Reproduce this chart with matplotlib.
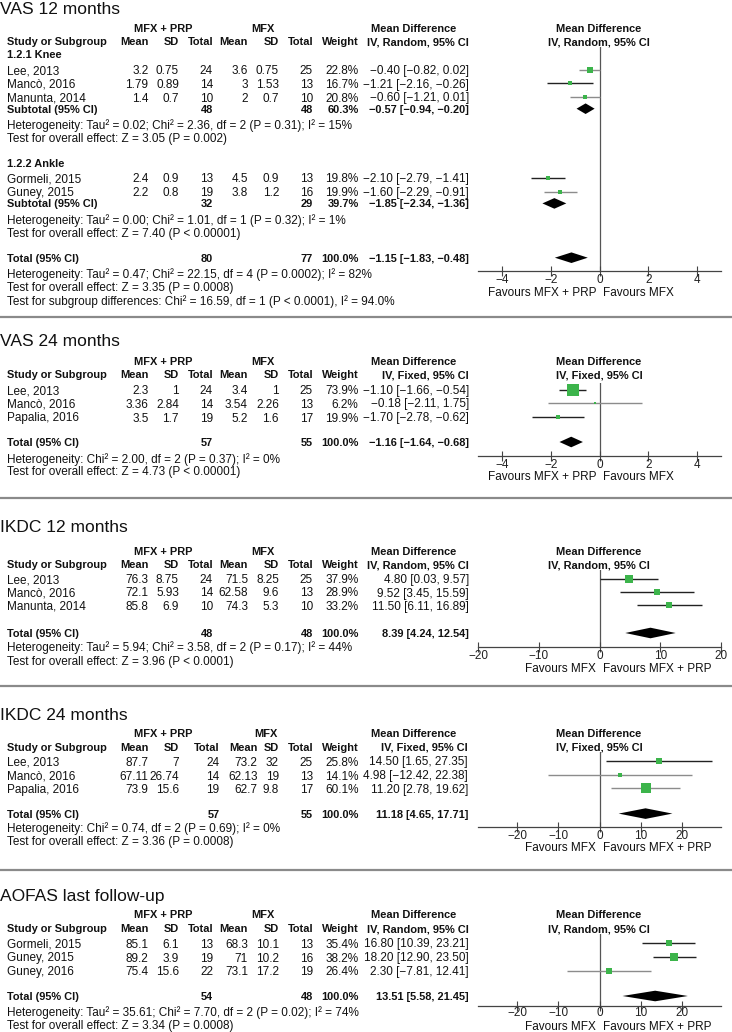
import matplotlib.pyplot as plt

plt.rcParams['font.family'] = ['Liberation Sans Narrow', 'Liberation Sans', 'DejaVu Sans']

# ---- data: VAS 12 months (random effects, two subgroups)
vas12_names = ['Lee, 2013', 'Mancò, 2016', 'Manunta, 2014', 'Gormeli, 2015', 'Guney, 2015']
vas12_prp_mean = [3.2, 1.79, 1.4, 2.4, 2.2]
vas12_prp_sd = [0.75, 0.89, 0.7, 0.9, 0.8]
vas12_prp_n = [24, 14, 10, 13, 19]
vas12_mfx_mean = [3.6, 3, 2, 4.5, 3.8]
vas12_mfx_sd = [0.75, 1.53, 0.7, 0.9, 1.2]
vas12_mfx_n = [25, 13, 10, 13, 16]
vas12_weight = [22.8, 16.7, 20.8, 19.8, 19.9]
vas12_md = [-0.40, -1.21, -0.60, -2.10, -1.60]
vas12_lo = [-0.82, -2.16, -1.21, -2.79, -2.29]
vas12_hi = [0.02, -0.26, 0.01, -1.41, -0.91]
vas12_sub_names = ['1.2.1 Knee', '1.2.2 Ankle']
vas12_sub_members = [[0, 1, 2], [3, 4]]
vas12_sub_prp_n = [48, 32]
vas12_sub_mfx_n = [48, 29]
vas12_sub_weight = [60.3, 39.7]
vas12_sub_md = [-0.57, -1.85]
vas12_sub_lo = [-0.94, -2.34]
vas12_sub_hi = [-0.20, -1.36]
vas12_sub_het = ['Heterogeneity: Tau² = 0.02; Chi² = 2.36, df = 2 (P = 0.31); I² = 15%',
                 'Heterogeneity: Tau² = 0.00; Chi² = 1.01, df = 1 (P = 0.32); I² = 1%']
vas12_sub_test = ['Test for overall effect: Z = 3.05 (P = 0.002)',
                  'Test for overall effect: Z = 7.40 (P < 0.00001)']
vas12_total = [80, 77, 100.0, -1.15, -1.83, -0.48]
vas12_notes = ['Heterogeneity: Tau² = 0.47; Chi² = 22.15, df = 4 (P = 0.0002); I² = 82%',
               'Test for overall effect: Z = 3.35 (P = 0.0008)',
               'Test for subgroup differences: Chi² = 16.59, df = 1 (P < 0.0001), I² = 94.0%']

# ---- VAS 24 months (fixed)
vas24_names = ['Lee, 2013', 'Mancò, 2016', 'Papalia, 2016']
vas24_prp_mean = [2.3, 3.36, 3.5]
vas24_prp_sd = [1, 2.84, 1.7]
vas24_prp_n = [24, 14, 19]
vas24_mfx_mean = [3.4, 3.54, 5.2]
vas24_mfx_sd = [1, 2.26, 1.6]
vas24_mfx_n = [25, 13, 17]
vas24_weight = [73.9, 6.2, 19.9]
vas24_md = [-1.10, -0.18, -1.70]
vas24_lo = [-1.66, -2.11, -2.78]
vas24_hi = [-0.54, 1.75, -0.62]
vas24_total = [57, 55, 100.0, -1.16, -1.64, -0.68]
vas24_notes = ['Heterogeneity: Chi² = 2.00, df = 2 (P = 0.37); I² = 0%',
               'Test for overall effect: Z = 4.73 (P < 0.00001)']

# ---- IKDC 12 months (random)
ikdc12_names = ['Lee, 2013', 'Mancò, 2016', 'Manunta, 2014']
ikdc12_prp_mean = [76.3, 72.1, 85.8]
ikdc12_prp_sd = [8.75, 5.93, 6.9]
ikdc12_prp_n = [24, 14, 10]
ikdc12_mfx_mean = [71.5, 62.58, 74.3]
ikdc12_mfx_sd = [8.25, 9.6, 5.3]
ikdc12_mfx_n = [25, 13, 10]
ikdc12_weight = [37.9, 28.9, 33.2]
ikdc12_md = [4.80, 9.52, 11.50]
ikdc12_lo = [0.03, 3.45, 6.11]
ikdc12_hi = [9.57, 15.59, 16.89]
ikdc12_total = [48, 48, 100.0, 8.39, 4.24, 12.54]
ikdc12_notes = ['Heterogeneity: Tau² = 5.94; Chi² = 3.58, df = 2 (P = 0.17); I² = 44%',
                'Test for overall effect: Z = 3.96 (P < 0.0001)']

# ---- IKDC 24 months (fixed)
ikdc24_names = ['Lee, 2013', 'Mancò, 2016', 'Papalia, 2016']
ikdc24_prp_mean = [87.7, 67.11, 73.9]
ikdc24_prp_sd = [7, 26.74, 15.6]
ikdc24_prp_n = [24, 14, 19]
ikdc24_mfx_mean = [73.2, 62.13, 62.7]
ikdc24_mfx_sd = [32, 19, 9.8]
ikdc24_mfx_n = [25, 13, 17]
ikdc24_weight = [25.8, 14.1, 60.1]
ikdc24_md = [14.50, 4.98, 11.20]
ikdc24_lo = [1.65, -12.42, 2.78]
ikdc24_hi = [27.35, 22.38, 19.62]
ikdc24_total = [57, 55, 100.0, 11.18, 4.65, 17.71]
ikdc24_notes = ['Heterogeneity: Chi² = 0.74, df = 2 (P = 0.69); I² = 0%',
                'Test for overall effect: Z = 3.36 (P = 0.0008)']

# ---- AOFAS last follow-up (random)
aofas_names = ['Gormeli, 2015', 'Guney, 2015', 'Guney, 2016']
aofas_prp_mean = [85.1, 89.2, 75.4]
aofas_prp_sd = [6.1, 3.9, 15.6]
aofas_prp_n = [13, 19, 22]
aofas_mfx_mean = [68.3, 71, 73.1]
aofas_mfx_sd = [10.1, 10.2, 17.2]
aofas_mfx_n = [13, 16, 19]
aofas_weight = [35.4, 38.2, 26.4]
aofas_md = [16.80, 18.20, 2.30]
aofas_lo = [10.39, 12.90, -7.81]
aofas_hi = [23.21, 23.50, 12.41]
aofas_total = [54, 48, 100.0, 13.51, 5.58, 21.45]
aofas_notes = ['Heterogeneity: Tau² = 35.61; Chi² = 7.70, df = 2 (P = 0.02); I² = 74%',
               'Test for overall effect: Z = 3.34 (P = 0.0008)']

FS = 8.5
FS_B = 7.9
GREEN = '#3cb44b'
DARK = '#222222'
GRAY = '#8c8c8c'
LX = 7


def num(v):
    return f'{v:g}'.replace('-', '−')


def ci_text(md, lo, hi):
    return f'{md:.2f} [{lo:.2f}, {hi:.2f}]'.replace('-', '−')


fig = plt.figure(figsize=(7.32, 10.32), dpi=100)
page = fig.add_axes([0, 0, 1, 1])
page.set_xlim(0, 732)
page.set_ylim(1032, 0)
page.axis('off')


def txt(x, y, s, ha='left', bold=False):
    page.text(x, y, s, ha=ha, va='center_baseline', fontsize=FS_B if bold else FS,
              fontweight='bold' if bold else 'normal', color='#111111')


def make_forest(top, axis_y, lim, ticks, pad=-1):
    ax = fig.add_axes([478 / 732, 1 - axis_y / 1032, 243 / 732, (axis_y - top) / 1032])
    ax.set_xlim(-lim, lim)
    ax.set_ylim(axis_y, top)
    ax.patch.set_alpha(0)
    for s in ['top', 'right', 'left']:
        ax.spines[s].set_visible(False)
    ax.spines['bottom'].set_color('#444444')
    ax.spines['bottom'].set_linewidth(0.9)
    ax.set_yticks([])
    ax.set_xticks(ticks)
    ax.set_xticklabels([num(t) for t in ticks])
    ax.tick_params(axis='x', direction='inout', length=7, width=0.8, colors='#444444',
                   labelcolor='#222222', labelsize=FS, pad=pad)
    ax.axvline(0, color='#555555', lw=0.9, zorder=1)
    return ax


def study_row(ax, cols, y, name, vals, md, lo, hi, w, line_col):
    txt(LX, y, name)
    for x, v in zip(cols[:6], vals):
        txt(x, y, num(v), ha='right')
    txt(cols[6], y, f'{w:.1f}%', ha='right')
    txt(cols[7], y, ci_text(md, lo, hi), ha='right')
    ax.hlines(y, lo, hi, color=line_col, lw=1.0, zorder=2)
    side = (2 + 13.5 * w / 100) * 0.72
    ax.scatter([md], [y], marker='s', s=side ** 2, color=GREEN, linewidths=0, zorder=3)


def pooled_row(ax, cols, y, label, n1, n2, w, md, lo, hi):
    txt(LX, y, label, bold=True)
    txt(cols[2], y, str(n1), ha='right', bold=True)
    txt(cols[5], y, str(n2), ha='right', bold=True)
    txt(cols[6], y, f'{w:.1f}%', ha='right', bold=True)
    txt(cols[7], y, ci_text(md, lo, hi), ha='right', bold=True)
    ax.fill([lo, md, hi, md], [y, y - 5.3, y, y + 5.3], color='black', lw=0, zorder=3)


def header(title, ty, h1, h2, cols, centers, method):
    page.text(0, ty, title, fontsize=12.5, family='Liberation Sans', va='center_baseline', color='#111111')
    txt(centers[0], h1, 'MFX + PRP', ha='center', bold=True)
    txt(centers[1], h1, 'MFX', ha='center', bold=True)
    txt(414, h1, 'Mean Difference', ha='center', bold=True)
    txt(599, h1, 'Mean Difference', ha='center', bold=True)
    txt(LX, h2, 'Study or Subgroup', bold=True)
    for x, s in zip(cols, ['Mean', 'SD', 'Total', 'Mean', 'SD', 'Total', 'Weight', method]):
        txt(x, h2, s, ha='right', bold=True)
    txt(599, h2, method, ha='center', bold=True)


def favours(axis_y, left, right, gap=20):
    txt(596, axis_y + gap, left, ha='right')
    txt(603, axis_y + gap, right, ha='left')


def separator(y):
    page.plot([0, 732], [y, y], color='#8a8a8a', lw=1.6, solid_capstyle='butt')


COLS = [148.5, 179, 213, 248, 279, 313, 358.5, 469]
COLS_B = [148.5, 179, 219.5, 257.5, 279, 313, 358.5, 468]


def simple_panel(title, ty, h1, h2, top, axis_y, lim, ticks, cols, centers, method,
                 names, pm, ps, pn, mm, msd, mn, wt, md, lo, hi, total, notes,
                 row_y, total_y, note_y, line_cols, fav, fav_gap=20, pad=-1):
    header(title, ty, h1, h2, cols, centers, method)
    ax = make_forest(top, axis_y, lim, ticks, pad=pad)
    for i, y in enumerate(row_y):
        study_row(ax, cols, y, names[i], [pm[i], ps[i], pn[i], mm[i], msd[i], mn[i]],
                  md[i], lo[i], hi[i], wt[i], line_cols[i])
    pooled_row(ax, cols, total_y, 'Total (95% CI)', *total)
    for y, s in zip(note_y, notes):
        txt(LX, y, s)
    favours(axis_y, *fav, gap=fav_gap)


# ---- panel 1: VAS 12 months
header('VAS 12 months', 7.5, 27.5, 41.3, COLS, [163, 263], 'IV, Random, 95% CI')
ax1 = make_forest(47, 271, 4.98, [-4, -2, 0, 2, 4])
p1_head_y = [54.4, 162.8]
p1_rows_y = [[69.8, 83.2, 97.0], [177.9, 191.6]]
p1_sub_y = [108.7, 203.4]
p1_note_y = [[124.0, 137.6], [218.8, 232.2]]
p1_line_cols = [GRAY, DARK, GRAY, DARK, GRAY]
for g in range(2):
    txt(LX, p1_head_y[g], vas12_sub_names[g], bold=True)
    for i, y in zip(vas12_sub_members[g], p1_rows_y[g]):
        study_row(ax1, COLS, y, vas12_names[i],
                  [vas12_prp_mean[i], vas12_prp_sd[i], vas12_prp_n[i],
                   vas12_mfx_mean[i], vas12_mfx_sd[i], vas12_mfx_n[i]],
                  vas12_md[i], vas12_lo[i], vas12_hi[i], vas12_weight[i], p1_line_cols[i])
    pooled_row(ax1, COLS, p1_sub_y[g], 'Subtotal (95% CI)', vas12_sub_prp_n[g], vas12_sub_mfx_n[g],
               vas12_sub_weight[g], vas12_sub_md[g], vas12_sub_lo[g], vas12_sub_hi[g])
    txt(LX, p1_note_y[g][0], vas12_sub_het[g])
    txt(LX, p1_note_y[g][1], vas12_sub_test[g])
pooled_row(ax1, COLS, 257.7, 'Total (95% CI)', *vas12_total)
for y, s in zip([272.8, 286.6, 299.7], vas12_notes):
    txt(LX, y, s)
favours(271, 'Favours MFX + PRP', 'Favours MFX')
separator(317)

# ---- panel 2: VAS 24 months
simple_panel('VAS 24 months', 340, 361, 374.4, 383, 455.5, 4.98, [-4, -2, 0, 2, 4], COLS, [163, 263],
             'IV, Fixed, 95% CI', vas24_names, vas24_prp_mean, vas24_prp_sd, vas24_prp_n,
             vas24_mfx_mean, vas24_mfx_sd, vas24_mfx_n, vas24_weight, vas24_md, vas24_lo, vas24_hi,
             vas24_total, vas24_notes, [389.5, 403.0, 417.0], 442, [457.6, 471.0],
             [DARK, GRAY, DARK], ('Favours MFX + PRP', 'Favours MFX'))
separator(498.3)

# ---- panel 3: IKDC 12 months
simple_panel('IKDC 12 months', 526, 551, 564.5, 570, 647, 20, [-20, -10, 0, 10, 20], COLS, [163, 263],
             'IV, Random, 95% CI', ikdc12_names, ikdc12_prp_mean, ikdc12_prp_sd, ikdc12_prp_n,
             ikdc12_mfx_mean, ikdc12_mfx_sd, ikdc12_mfx_n, ikdc12_weight, ikdc12_md, ikdc12_lo,
             ikdc12_hi, ikdc12_total, ikdc12_notes, [578.6, 592.0, 605.4], 633, [646.4, 660.0],
             [DARK, DARK, DARK], ('Favours MFX', 'Favours MFX + PRP'))
separator(686)

# ---- panel 4: IKDC 24 months
simple_panel('IKDC 24 months', 714, 733, 747, 752, 826.5, 29.5, [-20, -10, 0, 10, 20], COLS_B,
             [163.5, 266], 'IV, Fixed, 95% CI', ikdc24_names, ikdc24_prp_mean, ikdc24_prp_sd,
             ikdc24_prp_n, ikdc24_mfx_mean, ikdc24_mfx_sd, ikdc24_mfx_n, ikdc24_weight, ikdc24_md,
             ikdc24_lo, ikdc24_hi, ikdc24_total, ikdc24_notes, [761.0, 775.0, 788.5], 813.6,
             [827.0, 840.5], [DARK, GRAY, GRAY], ('Favours MFX', 'Favours MFX + PRP'))
separator(869.5)

# ---- panel 5: AOFAS last follow-up
simple_panel('AOFAS last follow-up', 895, 914, 928.5, 934, 1005.5, 29.5, [-20, -10, 0, 10, 20], COLS,
             [163, 263], 'IV, Random, 95% CI', aofas_names, aofas_prp_mean, aofas_prp_sd,
             aofas_prp_n, aofas_mfx_mean, aofas_mfx_sd, aofas_mfx_n, aofas_weight, aofas_md,
             aofas_lo, aofas_hi, aofas_total, aofas_notes, [943.0, 957.0, 970.5], 996,
             [1011.0, 1024.5], [DARK, DARK, GRAY], ('Favours MFX', 'Favours MFX + PRP'),
             fav_gap=19.5, pad=-2.5)

fig.savefig('out.png', dpi=100)
